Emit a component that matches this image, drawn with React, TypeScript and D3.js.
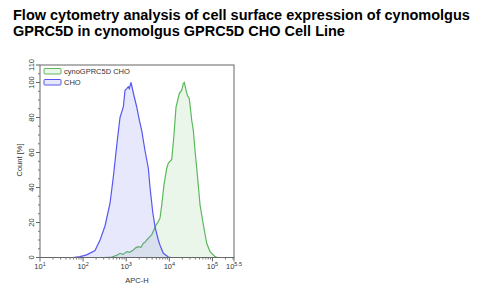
import React from "react";
import * as d3 from "d3";

// APC-H intensity (x) and Count [%] (y)
const choApc = [40, 58, 85, 121, 189, 247, 322, 421, 502, 621, 718, 857, 938, 1028, 1119, 1181, 1292, 1462, 1753, 2015, 2290, 2731, 3258, 3566, 4118, 4656, 5556, 6083, 7257, 9480, 11000];
const choCount = [0, 0, 0.5, 1.5, 4, 10, 18, 31, 46, 67, 80, 86, 95.5, 96.5, 97.5, 96.5, 100, 94, 86, 78.5, 72.5, 61, 51, 40, 26, 17.5, 10, 7, 2.4, 0.3, 0];

const cynoApc = [300, 461, 600, 718, 850, 1028, 1200, 1462, 1650, 1910, 2200, 2495, 2750, 2992, 3400, 3908, 4911, 5556, 6083, 6668, 7536, 8706, 9480, 11370, 12860, 14300, 17050, 19400, 21130, 22290, 24390, 26160, 29100, 33110, 36060, 39450, 43230, 51560, 61500, 73770, 87900, 114800, 130000];
const cynoCount = [0, 0.3, 1.2, 2.4, 1.8, 3.4, 3.0, 4.3, 5.5, 6.2, 5.8, 8.2, 8.8, 10, 11.5, 13, 18.5, 20.6, 22.6, 30, 41.8, 51, 54, 56, 70.6, 86, 93.7, 95.6, 99.4, 100, 95.6, 92.7, 90.8, 78.3, 72.5, 61, 51, 30, 18.7, 8, 3.4, 0.5, 0];

const series = [
  { name: "cynoGPRC5D CHO", xs: cynoApc, ys: cynoCount, stroke: "#5cb85c", fill: "rgba(110,190,110,0.14)" },
  { name: "CHO", xs: choApc, ys: choCount, stroke: "#5757f0", fill: "rgba(110,110,245,0.16)" },
];

const xTickExps = [1, 2, 3, 4, 5, 5.5];
const yTicks = [0, 20, 40, 60, 80, 100, 110];

const font = "Liberation Sans, Arial, sans-serif";

export default function App() {
  const left = 40, right = 234, top = 65, bottom = 257.5;
  const x = d3.scaleLog().domain([10, Math.pow(10, 5.5)]).range([left, right]);
  const y = d3.scaleLinear().domain([0, 110]).range([bottom, top]);

  const minorX: number[] = [];
  for (let e = 1; e <= 5; e++) {
    for (let m = 2; m <= 9; m++) {
      const v = m * Math.pow(10, e);
      if (v < Math.pow(10, 5.5)) minorX.push(v);
    }
  }
  const minorY = d3.range(0, 111, 5).filter((v) => !yTicks.includes(v));

  return (
    <svg width={483} height={293} style={{ position: "absolute", left: 0, top: 0 }}>
      <rect width={483} height={293} fill="#fff" />
      <text fontFamily={font} fontWeight="bold" fontSize={14.5} fill="#000">
        <tspan x={13} y={20}>Flow cytometry analysis of cell surface expression of cynomolgus</tspan>
        <tspan x={13} y={35.5}>GPRC5D in cynomolgus GPRC5D CHO Cell Line</tspan>
      </text>

      {series.map((s) => {
        const pts = s.xs.map((v, i) => [v, s.ys[i]] as [number, number]);
        const area = d3.area<[number, number]>().x((d) => x(d[0])).y0(y(0)).y1((d) => y(d[1]));
        const line = d3.line<[number, number]>().x((d) => x(d[0])).y((d) => y(d[1]));
        return (
          <g key={s.name}>
            <path d={area(pts) || ""} fill={s.fill} />
            <path d={line(pts) || ""} fill="none" stroke={s.stroke} strokeWidth={1.2} />
          </g>
        );
      })}

      <rect x={left} y={top} width={right - left} height={bottom - top} fill="none" stroke="#666" strokeWidth={1} />

      {xTickExps.map((e) => (
        <g key={e}>
          <line x1={x(Math.pow(10, e))} x2={x(Math.pow(10, e))} y1={bottom} y2={bottom + 4} stroke="#666" />
          <text x={x(Math.pow(10, e))} y={269} textAnchor="middle" fontFamily={font} fontSize={7.5} fill="#333">
            10<tspan fontSize={5.5} dy={-3}>{e}</tspan>
          </text>
        </g>
      ))}
      {minorX.map((v) => (
        <line key={v} x1={x(v)} x2={x(v)} y1={bottom} y2={bottom + 2} stroke="#777" />
      ))}
      <text x={137} y={283} textAnchor="middle" fontFamily={font} fontSize={7.5} fill="#333">APC-H</text>

      {yTicks.map((t) => (
        <g key={t}>
          <line x1={left - 4} x2={left} y1={y(t)} y2={y(t)} stroke="#666" />
          <text transform={`translate(34,${y(t)}) rotate(-90)`} textAnchor="middle" fontFamily={font} fontSize={7.5} fill="#333">{t}</text>
        </g>
      ))}
      {minorY.map((t) => (
        <line key={t} x1={left - 2} x2={left} y1={y(t)} y2={y(t)} stroke="#777" />
      ))}
      <text transform={`translate(22,160) rotate(-90)`} textAnchor="middle" fontFamily={font} fontSize={7.5} fill="#333">Count [%]</text>

      {series.map((s, i) => (
        <g key={"lg" + s.name} transform={`translate(44,${68.5 + i * 11})`}>
          <rect width={17} height={5.5} rx={1} fill={s.fill} stroke={s.stroke} strokeWidth={1} />
          <text x={20} y={5.5} fontFamily={font} fontSize={7.5} fill="#333">{s.name}</text>
        </g>
      ))}
    </svg>
  );
}
